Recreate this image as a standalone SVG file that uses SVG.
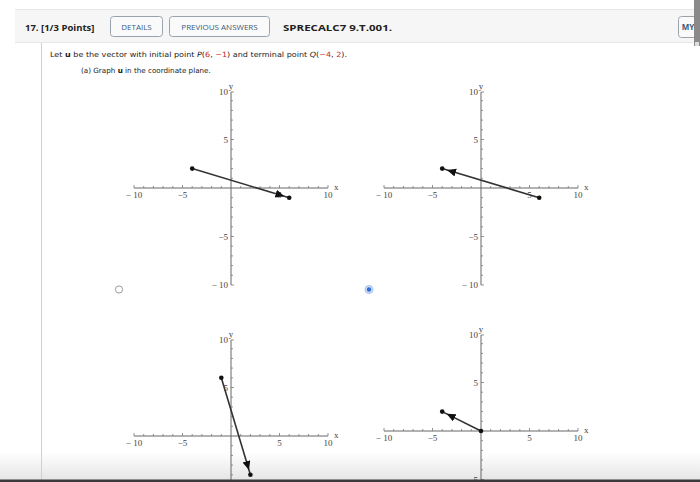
<svg xmlns="http://www.w3.org/2000/svg" xmlns:xlink="http://www.w3.org/1999/xlink" width="700" height="482" viewBox="0 0 700 482">
<style>
.ax{stroke:#666;stroke-width:1;fill:none}
.tk{stroke:#777;stroke-width:0.8;fill:none}
.lb{font-family:"Liberation Serif","DejaVu Serif",serif;font-size:9px;fill:#444}
.vec{stroke:#333;stroke-width:1.6;fill:none}
.dot{fill:#111}
.hdr{font-family:"Open Sans","Liberation Sans",sans-serif;font-weight:bold;font-size:9.5px;fill:#222}
.btn{fill:#fafafa;stroke:#9aa3ad;stroke-width:1}
.btt{font-family:"Open Sans","Liberation Sans",sans-serif;font-size:8px;fill:#3d5a7a;text-anchor:middle}
.body{font-family:"DejaVu Sans","Liberation Sans",sans-serif;font-size:7.2px;fill:#222}
.red{fill:#c62828}
</style>
<defs>
<marker id="ah" markerUnits="userSpaceOnUse" markerWidth="20" markerHeight="10" refX="14" refY="4" orient="auto">
<path d="M0,0 L9,4 L0,8 z" fill="#111"/>
</marker>
<linearGradient id="shade" x1="0" y1="0" x2="0" y2="1">
<stop offset="0" stop-color="#e4e4e4" stop-opacity="0"/>
<stop offset="1" stop-color="#e4e4e4" stop-opacity="0.95"/>
</linearGradient>
<g id="axes">
<path class="ax" d="M-97 0H97M0 -96V97"/>
<path class="tk" d="M-97 0v-3M-87.3 0v-2M-77.6 0v-2M-67.9 0v-2M-58.2 0v-2M-48.5 0v-3M-38.8 0v-2M-29.1 0v-2M-19.4 0v-2M-9.7 0v-2M9.7 0v-2M19.4 0v-2M29.1 0v-2M38.8 0v-2M48.5 0v-3M58.2 0v-2M67.9 0v-2M77.6 0v-2M87.3 0v-2M97 0v-3"/>
<path class="tk" d="M0 -96h3M0 -87.3h2M0 -77.6h2M0 -67.9h2M0 -58.2h2M0 -48.5h3M0 -38.8h2M0 -29.1h2M0 -19.4h2M0 -9.7h2M0 9.7h2M0 19.4h2M0 29.1h2M0 38.8h2M0 48.5h3M0 58.2h2M0 67.9h2M0 77.6h2M0 87.3h2M0 97h3"/>
<text class="lb" x="-97" y="10" text-anchor="middle">− 10</text>
<text class="lb" x="-48.5" y="10" text-anchor="middle">−5</text>
<text class="lb" x="48.5" y="10" text-anchor="middle">5</text>
<text class="lb" x="97" y="10" text-anchor="middle">10</text>
<text class="lb" x="103" y="2">x</text>
<text class="lb" x="-3" y="-93" text-anchor="end">10</text>
<text class="lb" x="-3" y="-45" text-anchor="end">5</text>
<text class="lb" x="-3" y="52" text-anchor="end">−5</text>
<text class="lb" x="-3" y="100" text-anchor="end">− 10</text>
<text class="lb" x="0" y="-99" text-anchor="middle">y</text>
</g>
</defs>
<rect width="700" height="482" fill="#fff"/>
<rect x="0" y="452" width="700" height="28" fill="url(#shade)"/>

<g id="header">
<rect x="15" y="9" width="685" height="34" fill="#f6f6f6"/>
<path d="M15 9.5H700M15 42.5H700" stroke="#e6e6e6" stroke-width="1"/>
<text class="hdr" x="25" y="31">17.  [1/3 Points]</text>
<rect class="btn" x="110.5" y="16.5" width="52" height="20" rx="3"/>
<text class="btt" x="136.5" y="30">DETAILS</text>
<rect class="btn" x="169.5" y="16.5" width="100" height="20" rx="3"/>
<text class="btt" x="219.5" y="30">PREVIOUS ANSWERS</text>
<text class="hdr" x="283" y="31" textLength="109" lengthAdjust="spacingAndGlyphs">SPRECALC7 9.T.001.</text>
<rect class="btn" x="678.5" y="16.5" width="30" height="21" rx="3"/>
<text class="btt" x="688" y="30" text-anchor="start" font-weight="bold">MY</text>
<rect x="694" y="0" width="6" height="46" fill="#8a8a8a"/>
<rect x="695" y="42" width="4" height="4" fill="#ddd"/>
</g>

<line x1="41.5" y1="43" x2="41.5" y2="480" stroke="#d0d0d0" stroke-width="1"/>

<g id="question">
<text class="body" x="50" y="57" textLength="297" lengthAdjust="spacingAndGlyphs">Let <tspan font-weight="bold">u</tspan> be the vector with initial point  <tspan font-style="italic">P</tspan>(<tspan class="red">6</tspan>, <tspan class="red">−1</tspan>)  and terminal point  <tspan font-style="italic">Q</tspan>(<tspan class="red">−4</tspan>, <tspan class="red">2</tspan>).</text>
<text class="body" x="81" y="73" font-size="6.4px">(a) Graph <tspan font-weight="bold">u</tspan> in the coordinate plane.</text>
</g>

<g id="plot-a">
<use xlink:href="#axes" transform="translate(231,188)"/>
<line class="vec" x1="192.2" y1="168.6" x2="289.2" y2="197.7" marker-end="url(#ah)"/>
<circle class="dot" cx="192.2" cy="168.6" r="2.3"/>
<circle class="dot" cx="289.2" cy="197.7" r="2.3"/>
<circle cx="119" cy="289.5" r="3.6" fill="#fff" stroke="#9a9a9a" stroke-width="1"/>
</g>

<g id="plot-b">
<use xlink:href="#axes" transform="translate(481,188)"/>
<line class="vec" x1="539.2" y1="197.7" x2="442.2" y2="168.6" marker-end="url(#ah)"/>
<circle class="dot" cx="442.2" cy="168.6" r="2.3"/>
<circle class="dot" cx="539.2" cy="197.7" r="2.3"/>
<circle cx="369" cy="289.5" r="4" fill="#cfe0f8" stroke="#9ab8e6" stroke-width="0.8"/>
<circle cx="369" cy="289.5" r="2.2" fill="#2f6fd6"/>
</g>

<g id="plot-c">
<use xlink:href="#axes" transform="translate(231,436)"/>
<line class="vec" x1="221.3" y1="377.8" x2="250.4" y2="474.8" marker-end="url(#ah)"/>
<circle class="dot" cx="221.3" cy="377.8" r="2.3"/>
<circle class="dot" cx="250.4" cy="474.8" r="2.3"/>
</g>

<g id="plot-d">
<use xlink:href="#axes" transform="translate(481,431)"/>
<line class="vec" x1="481" y1="431" x2="442.2" y2="411.6" marker-end="url(#ah)"/>
<circle class="dot" cx="442.2" cy="411.6" r="2.3"/>
<circle class="dot" cx="481" cy="431" r="2.3"/>
</g>

<rect x="0" y="479.5" width="700" height="2.5" fill="#3a3a3a"/>
</svg>
